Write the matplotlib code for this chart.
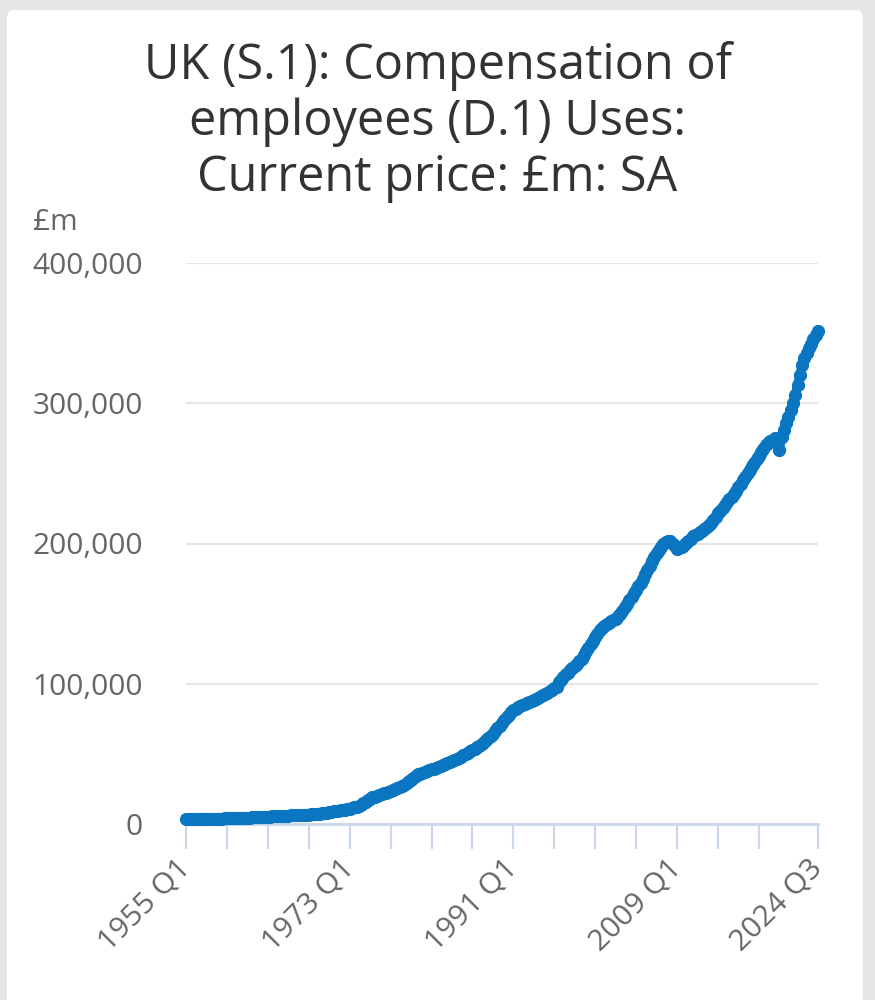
import matplotlib.pyplot as plt
from matplotlib.patches import FancyBboxPatch
import numpy as np

plt.rcParams['font.family'] = ['Open Sans', 'DejaVu Sans']

title = "UK (S.1): Compensation of\nemployees (D.1) Uses:\nCurrent price: £m: SA"
unit_label = "£m"

# quarterly values, £m, 1955 Q1 .. 2024 Q3
years = list(range(1955, 2025))
values_by_year = [
    [3300, 3330, 3370, 3400],        # 1955
    [3440, 3480, 3520, 3560],
    [3600, 3640, 3680, 3720],
    [3760, 3790, 3820, 3860],
    [3900, 3950, 4000, 4060],
    [4120, 4180, 4240, 4300],        # 1960
    [4370, 4440, 4500, 4560],
    [4610, 4660, 4710, 4760],
    [4820, 4890, 4970, 5050],
    [5150, 5250, 5350, 5440],
    [5540, 5640, 5740, 5840],        # 1965
    [5940, 6040, 6110, 6150],
    [6200, 6270, 6350, 6440],
    [6550, 6660, 6770, 6880],
    [7000, 7130, 7270, 7430],
    [7650, 7900, 8180, 8450],        # 1970
    [8700, 8950, 9200, 9450],
    [9700, 10000, 10300, 10650],
    [11000, 11400, 11800, 12200],
    [12800, 13700, 14800, 16000],
    [17100, 18100, 18900, 19500],    # 1975
    [20100, 20700, 21300, 21900],
    [22400, 22900, 23500, 24200],
    [24900, 25700, 26500, 27300],
    [28100, 29200, 30500, 31700],
    [33000, 34300, 35300, 36000],    # 1980
    [36600, 37100, 37700, 38300],
    [38900, 39500, 40100, 40700],
    [41300, 41900, 42600, 43300],
    [44000, 44700, 45500, 46300],
    [47200, 48100, 49000, 49900],    # 1985
    [50800, 51700, 52600, 53600],
    [54600, 55700, 56900, 58200],
    [59600, 61100, 62700, 64400],
    [66200, 68100, 70100, 72100],
    [74100, 76100, 78000, 79700],    # 1990
    [81100, 82300, 83300, 84100],
    [84900, 85600, 86300, 87000],
    [87700, 88500, 89300, 90100],
    [91000, 91900, 92800, 93700],
    [94700, 95700, 96800, 97900],    # 1995
    [101000, 103000, 105000, 107000],
    [108000, 109500, 111000, 112500],
    [114000, 116000, 118000, 120500],
    [123000, 125500, 128000, 130500],
    [133000, 135500, 138000, 140000],  # 2000
    [141500, 142500, 143500, 144500],
    [145500, 146500, 148000, 150000],
    [152000, 154500, 157000, 159500],
    [162000, 164500, 167000, 169500],
    [172000, 175000, 178000, 181000],  # 2005
    [184000, 187500, 190500, 193000],
    [195500, 197500, 199500, 201000],
    [202000, 201500, 200000, 198000],
    [196000, 196500, 197500, 199000],
    [200500, 202000, 203500, 205000],  # 2010
    [206000, 207000, 208000, 209000],
    [210000, 211500, 213000, 214500],
    [216500, 219000, 221500, 223500],
    [225500, 227500, 229500, 231500],
    [233500, 235500, 237500, 240000],  # 2015
    [242500, 245000, 247500, 250000],
    [252500, 255000, 257500, 260000],
    [262500, 265000, 267500, 270000],
    [271500, 273000, 274000, 275000],
    [274500, 266500, 276000, 281000],  # 2020
    [286000, 290000, 295000, 300000],
    [306000, 313000, 320000, 327000],
    [332000, 336000, 339500, 342500],
    [346000, 349000, 351500],          # 2024 (to Q3)
]

labels = []
values = []
for y, qs in zip(years, values_by_year):
    for q, v in enumerate(qs):
        labels.append(f"{y} Q{q + 1}")
        values.append(v)

x = np.arange(len(values))
tick_pos = list(range(0, 253, 18)) + [len(values) - 1]
labelled = ["1955 Q1", "1973 Q1", "1991 Q1", "2009 Q1", "2024 Q3"]
y_ticks = [0, 100000, 200000, 300000, 400000]

fig = plt.figure(figsize=(8.75, 10), dpi=100)
fig.patch.set_facecolor('#e6e6e6')
panel = FancyBboxPatch((7 / 875, -0.05), 856 / 875, 1.04, boxstyle="round,pad=0,rounding_size=0.008",
                       transform=fig.transFigure, facecolor='white', edgecolor='none', zorder=-10)
fig.patches.append(panel)

ax = fig.add_axes([186 / 875, 176 / 1000, 632 / 875, 561 / 1000])
ax.set_facecolor('none')
ax.plot(x, values, color='#0a76c2', lw=6.5, marker='o', ms=8.5, mec='#0a76c2', clip_on=False, zorder=3)

ax.set_xlim(0, len(values) - 1)
ax.set_ylim(0, 400000)
ax.set_yticks(y_ticks)
ax.set_yticklabels([f"{v:,}" for v in y_ticks])
ax.set_xticks(tick_pos)
ax.set_xticklabels([labels[p] if labels[p] in labelled else "" for p in tick_pos],
                   rotation=45, ha='right', va='center', rotation_mode='anchor')

ax.grid(axis='y', color='#e6e6e6', lw=1.5)
ax.set_axisbelow(True)
for s in ['top', 'right', 'left']:
    ax.spines[s].set_visible(False)
ax.spines['bottom'].set_color('#ccd6eb')
ax.spines['bottom'].set_linewidth(2)
ax.spines['bottom'].set_zorder(2)

ax.tick_params(axis='y', length=0, pad=31, labelsize=21.5, labelcolor='#666666')
ax.tick_params(axis='x', length=18, width=1.5, color='#ccd6eb', pad=11, labelsize=21.5, labelcolor='#666666')

fig.text(0.5, 1 - 41 / 1000, title, ha='center', va='top', fontsize=35, color='#333333', linespacing=1.17)
fig.text(33 / 875, 1 - 222 / 1000, unit_label, ha='left', va='center', fontsize=21.5, color='#666666')

fig.savefig('out.png', dpi=100, facecolor=fig.get_facecolor())
